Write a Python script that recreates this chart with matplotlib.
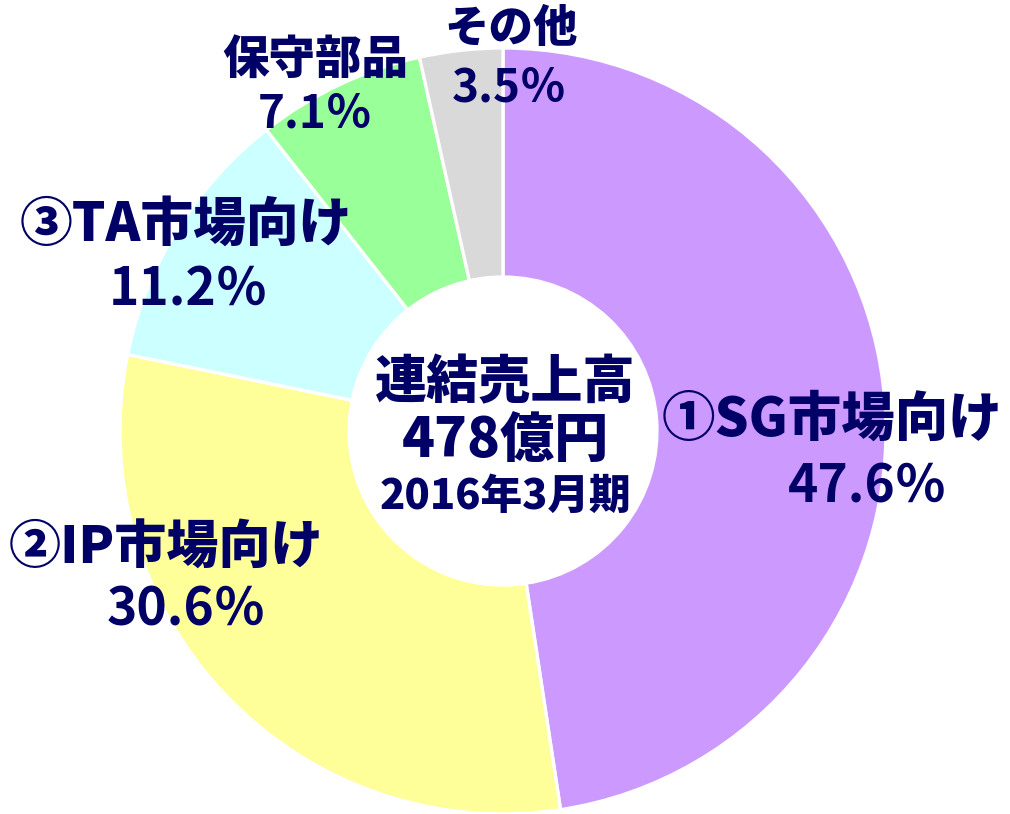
import matplotlib
matplotlib.use("Agg")
import matplotlib.pyplot as plt

plt.rcParams['font.family'] = ['Noto Sans CJK JP', 'DejaVu Sans']

# Sales composition, fiscal year ended March 2016
segments = ["①SG市場向け", "②IP市場向け", "③TA市場向け", "保守部品", "その他"]
shares = [47.6, 30.6, 11.2, 7.1, 3.5]
colors = ["#CC99FF", "#FFFF99", "#CCFFFF", "#99FF99", "#D9D9D9"]
center_lines = ["連結売上高", "478億円", "2016年3月期"]

W, H = 1010, 814
fig = plt.figure(figsize=(W / 100, H / 100), dpi=100)
ax = fig.add_axes([0, 0, 1, 1])

cx, cy, R = 503, H - 431, 383
ax.pie(shares, colors=colors, startangle=90, counterclock=False,
       center=(cx, cy), radius=R, frame=True,
       wedgeprops=dict(width=R * 0.598, edgecolor="white", linewidth=2.4))
ax.set_xlim(0, W)
ax.set_ylim(0, H)
ax.axis("off")

navy = "#000066"
# label positions (name, value) in pixel coordinates from the top-left,
# followed by name size and value size
label_pos = [
    ((832, 420), (867, 487), 38.5, 37),
    ((166, 548), (186, 610), 37.5, 37),
    ((186, 225), (188, 290), 38, 37),
    ((315, 60), (315, 115), 33.5, 33),
    ((511, 28), (509, 88), 32, 33),
]
for name, val, (npos, vpos, nfs, vfs) in zip(segments, shares, label_pos):
    ax.text(npos[0], H - npos[1], name, ha="center", va="center",
            fontsize=nfs, fontweight="heavy", color=navy)
    ax.text(vpos[0], H - vpos[1], f"{val:.1f}％", ha="center", va="center",
            fontsize=vfs, fontweight="bold", color=navy)

ax.text(505, H - 383, center_lines[0], ha="center", va="center",
        fontsize=37.5, fontweight="heavy", color=navy)
ax.text(505, H - 442, center_lines[1], ha="center", va="center",
        fontsize=39, fontweight="heavy", color=navy)
ax.text(505, H - 497, center_lines[2], ha="center", va="center",
        fontsize=30, fontweight="heavy", color=navy)

fig.savefig("out.png", dpi=100)
